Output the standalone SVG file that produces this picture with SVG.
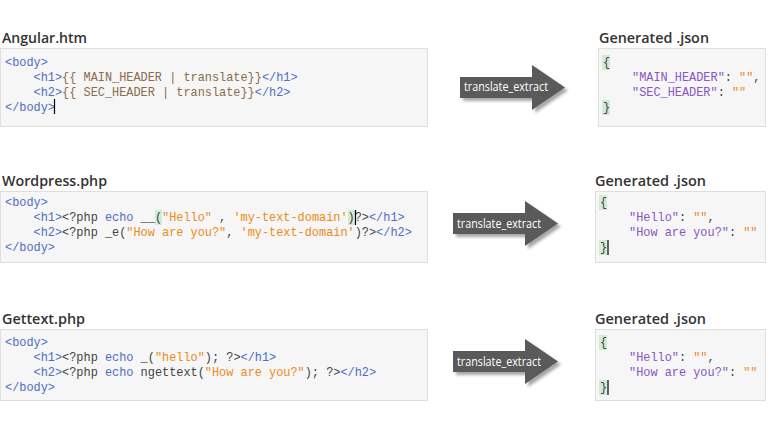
<svg xmlns="http://www.w3.org/2000/svg" width="768" height="432" viewBox="0 0 768 432">
<defs>
<style>
.title{font-family:"Open Sans","Liberation Sans",sans-serif;font-weight:600;font-size:14px;fill:#333}
.box{fill:#f6f6f6;stroke:#dedede;stroke-width:1}
.code{font-family:"Liberation Mono","DejaVu Sans Mono",monospace;font-size:11.9px;fill:#444}
.t{fill:#4f6ec4}
.a{fill:#8a6d4d}
.s{fill:#ef8a20}
.k{fill:#8a56c4}
.hl{fill:#d2ebd6}
.cur{stroke:#000;stroke-width:1.2}
.arrow{fill:#5a5a5a;filter:url(#sh)}
.lbl{font-family:"Open Sans","Liberation Sans",sans-serif;font-size:12px;fill:#fff}
</style>
<filter id="sh" x="-20%" y="-20%" width="150%" height="150%">
<feGaussianBlur in="SourceAlpha" stdDeviation="1.5"/>
<feOffset dx="3" dy="3" result="o"/>
<feComponentTransfer><feFuncA type="linear" slope="0.35"/></feComponentTransfer>
<feMerge><feMergeNode/><feMergeNode in="SourceGraphic"/></feMerge>
</filter>
</defs>
<rect width="768" height="432" fill="#fff"/>

<g id="angular">
<text class="title" x="2" y="43" textLength="85" lengthAdjust="spacingAndGlyphs">Angular.htm</text>
<rect class="box" x="0.5" y="48.5" width="427" height="78"/>
<text class="code" y="66" xml:space="preserve"><tspan x="5" class="t">&lt;body&gt;</tspan></text>
<text class="code" y="81" xml:space="preserve"><tspan x="5">    </tspan><tspan class="t">&lt;h1&gt;</tspan><tspan class="a">{{ MAIN_HEADER | translate}}</tspan><tspan class="t">&lt;/h1&gt;</tspan></text>
<text class="code" y="96" xml:space="preserve"><tspan x="5">    </tspan><tspan class="t">&lt;h2&gt;</tspan><tspan class="a">{{ SEC_HEADER | translate}}</tspan><tspan class="t">&lt;/h2&gt;</tspan></text>
<text class="code" y="111" xml:space="preserve"><tspan x="5" class="t">&lt;/body&gt;</tspan></text>
<line class="cur" x1="54.5" y1="99" x2="54.5" y2="114"/>
</g>

<g id="wordpress">
<text class="title" x="2" y="186" textLength="105" lengthAdjust="spacingAndGlyphs">Wordpress.php</text>
<rect class="box" x="0.5" y="191.5" width="427" height="71"/>
<rect class="hl" x="155" y="210" width="7" height="15"/>
<rect class="hl" x="348" y="210" width="7" height="15"/>
<text class="code" y="206" xml:space="preserve"><tspan x="5" class="t">&lt;body&gt;</tspan></text>
<text class="code" y="221" xml:space="preserve"><tspan x="5">    </tspan><tspan class="t">&lt;h1&gt;</tspan>&lt;?php <tspan class="t">echo</tspan> __(<tspan class="s">"Hello"</tspan> , <tspan class="s">'my-text-domain'</tspan>)?&gt;<tspan class="t">&lt;/h1&gt;</tspan></text>
<text class="code" y="236" xml:space="preserve"><tspan x="5">    </tspan><tspan class="t">&lt;h2&gt;</tspan>&lt;?php _e(<tspan class="s">"How are you?"</tspan>, <tspan class="s">'my-text-domain'</tspan>)?&gt;<tspan class="t">&lt;/h2&gt;</tspan></text>
<text class="code" y="251" xml:space="preserve"><tspan x="5" class="t">&lt;/body&gt;</tspan></text>
<line class="cur" x1="355.5" y1="210" x2="355.5" y2="225"/>
</g>

<g id="gettext">
<text class="title" x="2" y="324" textLength="83" lengthAdjust="spacingAndGlyphs">Gettext.php</text>
<rect class="box" x="0.5" y="329.5" width="427" height="71"/>
<text class="code" y="346" xml:space="preserve"><tspan x="5" class="t">&lt;body&gt;</tspan></text>
<text class="code" y="361" xml:space="preserve"><tspan x="5">    </tspan><tspan class="t">&lt;h1&gt;</tspan>&lt;?php <tspan class="t">echo</tspan> _(<tspan class="s">"hello"</tspan>); ?&gt;<tspan class="t">&lt;/h1&gt;</tspan></text>
<text class="code" y="376" xml:space="preserve"><tspan x="5">    </tspan><tspan class="t">&lt;h2&gt;</tspan>&lt;?php <tspan class="t">echo</tspan> ngettext(<tspan class="s">"How are you?"</tspan>); ?&gt;<tspan class="t">&lt;/h2&gt;</tspan></text>
<text class="code" y="391" xml:space="preserve"><tspan x="5" class="t">&lt;/body&gt;</tspan></text>
</g>

<g id="json1">
<text class="title" x="599" y="43" textLength="110" lengthAdjust="spacingAndGlyphs">Generated .json</text>
<rect class="box" x="598.5" y="48.5" width="167" height="78"/>
<rect class="hl" x="602" y="55" width="8" height="15"/>
<rect class="hl" x="602" y="100" width="8" height="15"/>
<text class="code" y="66" xml:space="preserve"><tspan x="603">{</tspan></text>
<text class="code" y="81" xml:space="preserve"><tspan x="632" class="k">"MAIN_HEADER"</tspan>: <tspan class="s">""</tspan>,</text>
<text class="code" y="96" xml:space="preserve"><tspan x="632" class="k">"SEC_HEADER"</tspan>: <tspan class="s">""</tspan></text>
<text class="code" y="111" xml:space="preserve"><tspan x="603">}</tspan></text>
</g>

<g id="json2">
<text class="title" x="595" y="186" textLength="111" lengthAdjust="spacingAndGlyphs">Generated .json</text>
<rect class="box" x="595.5" y="191.5" width="170" height="71"/>
<rect class="hl" x="599" y="195" width="8" height="15"/>
<rect class="hl" x="599" y="240" width="8" height="15"/>
<text class="code" y="206" xml:space="preserve"><tspan x="600">{</tspan></text>
<text class="code" y="221" xml:space="preserve"><tspan x="629" class="k">"Hello"</tspan>: <tspan class="s">""</tspan>,</text>
<text class="code" y="236" xml:space="preserve"><tspan x="629" class="k">"How are you?"</tspan>: <tspan class="s">""</tspan></text>
<text class="code" y="251" xml:space="preserve"><tspan x="600">}</tspan></text>
<line class="cur" x1="608" y1="240" x2="608" y2="255"/>
</g>

<g id="json3">
<text class="title" x="595" y="324" textLength="111" lengthAdjust="spacingAndGlyphs">Generated .json</text>
<rect class="box" x="595.5" y="329.5" width="170" height="71"/>
<rect class="hl" x="599" y="335" width="8" height="15"/>
<rect class="hl" x="599" y="380" width="8" height="15"/>
<text class="code" y="346" xml:space="preserve"><tspan x="600">{</tspan></text>
<text class="code" y="361" xml:space="preserve"><tspan x="629" class="k">"Hello"</tspan>: <tspan class="s">""</tspan>,</text>
<text class="code" y="376" xml:space="preserve"><tspan x="629" class="k">"How are you?"</tspan>: <tspan class="s">""</tspan></text>
<text class="code" y="391" xml:space="preserve"><tspan x="600">}</tspan></text>
<line class="cur" x1="608" y1="380" x2="608" y2="395"/>
</g>

<g id="connectors">
<g id="arrow1">
<polygon class="arrow" points="460,77 532,77 532,65 565,87.5 532,110 532,98 460,98"/>
<text class="lbl" x="464" y="91" textLength="84" lengthAdjust="spacingAndGlyphs">translate_extract</text>
</g>
<g id="arrow2">
<polygon class="arrow" points="453,213 525,213 525,201 558,223.5 525,246 525,234 453,234"/>
<text class="lbl" x="457" y="228" textLength="84" lengthAdjust="spacingAndGlyphs">translate_extract</text>
</g>
<g id="arrow3">
<polygon class="arrow" points="453,351 525,351 525,339 558,361.5 525,384 525,372 453,372"/>
<text class="lbl" x="457" y="366" textLength="84" lengthAdjust="spacingAndGlyphs">translate_extract</text>
</g>
</g>
</svg>
